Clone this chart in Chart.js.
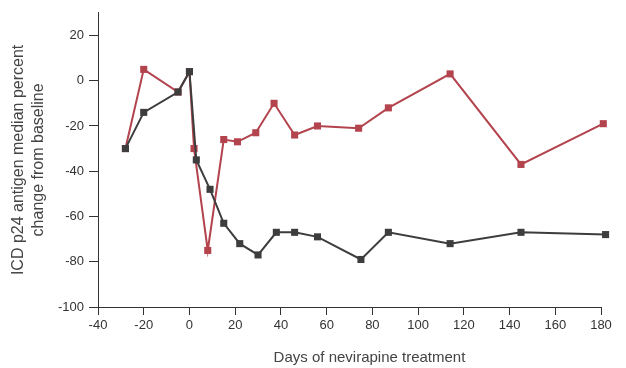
<!DOCTYPE html>
<html>
<head>
<meta charset="utf-8">
<script src="https://cdn.jsdelivr.net/npm/chart.js@4"></script>
<style>
  html, body { margin: 0; padding: 0; background: #fff; }
  #wrap { width: 626px; height: 368px; }
</style>
</head>
<body>
<div id="wrap"><canvas id="myChart" width="626" height="368"></canvas></div>
<script>
// days and median percent change
const diasRojo = [-28, -20, -5, 0, 2, 8, 15, 21, 29, 37, 46, 56, 74, 87, 114, 145, 181];
const valoresRojo = [-30, 5, -5, 4, -30, -75, -26, -27, -23, -10, -24, -20, -21, -12, 3, -37, -19];
const diasNegro = [-28, -20, -5, 0, 3, 9, 15, 22, 30, 38, 46, 56, 75, 87, 114, 145, 182];
const valoresNegro = [-30, -14, -5, 4, -35, -48, -63, -72, -77, -67, -67, -69, -79, -67, -72, -67, -68];
const ticksX = [-40, -20, 0, 20, 40, 60, 80, 100, 120, 140, 160, 180];
const ticksY = [-100, -80, -60, -40, -20, 0, 20];
const tituloX = 'Days of nevirapine treatment';

function puntos(xs, ys) {
    return xs.map((x, i) => ({ x: x, y: ys[i] }));
}

const rojo = '#b3434d';
const negro = '#3d3d3d';
const ejes = '#333';

// x title sits a bit right of the plot centre in the original
const tituloAbajo = {
    id: 'tituloAbajo',
    afterDraw(chart) {
        const c = chart.ctx;
        const a = chart.chartArea;
        c.save();
        c.fillStyle = '#444';
        c.font = '15px "Liberation Sans"';
        c.textAlign = 'center';
        c.textBaseline = 'middle';
        c.fillText(tituloX, (a.left + a.right) / 2 + 20, chart.height - 10);
        c.restore();
    }
};

const ctx = document.getElementById('myChart').getContext('2d');
new Chart(ctx, {
    type: 'line',
    data: {
        datasets: [{
            data: puntos(diasNegro, valoresNegro),
            borderColor: negro,
            backgroundColor: negro,
            borderWidth: 2,
            pointStyle: 'rect',
            pointRadius: 5,
            pointBorderWidth: 0,
            clip: false,
            order: 0
        }, {
            data: puntos(diasRojo, valoresRojo),
            borderColor: rojo,
            backgroundColor: rojo,
            borderWidth: 2,
            pointStyle: 'rect',
            pointRadius: 5,
            pointBorderWidth: 0,
            clip: false,
            order: 1
        }]
    },
    options: {
        responsive: false,
        animation: false,
        layout: { padding: { left: 0, right: 25, top: 12, bottom: 0 } },
        plugins: { legend: { display: false }, tooltip: { enabled: false } },
        scales: {
            x: {
                type: 'linear',
                min: -40,
                max: 180,
                afterBuildTicks: s => { s.ticks = ticksX.map(v => ({ value: v })); },
                afterFit: s => { s.height = 61; },
                ticks: { color: '#333', font: { family: 'Liberation Sans', size: 13 }, padding: 3, maxRotation: 0 },
                grid: { drawOnChartArea: false, drawTicks: true, tickLength: 8, color: ejes },
                border: { color: ejes, width: 1 }
            },
            y: {
                min: -100,
                max: 30,
                afterBuildTicks: s => { s.ticks = ticksY.map(v => ({ value: v })); },
                afterFit: s => { s.width = 98; },
                ticks: { color: '#333', font: { family: 'Liberation Sans', size: 13 }, padding: 5 },
                grid: { drawOnChartArea: false, drawTicks: true, tickLength: 9, color: ejes },
                border: { color: ejes, width: 1 },
                title: {
                    display: true,
                    text: ['ICD p24 antigen median percent', 'change from baseline'],
                    color: '#444',
                    font: { family: 'Liberation Sans', size: 16, lineHeight: 1.25 },
                    padding: { top: 9, bottom: 0 }
                }
            }
        }
    },
    plugins: [tituloAbajo]
});
</script>
</body>
</html>
